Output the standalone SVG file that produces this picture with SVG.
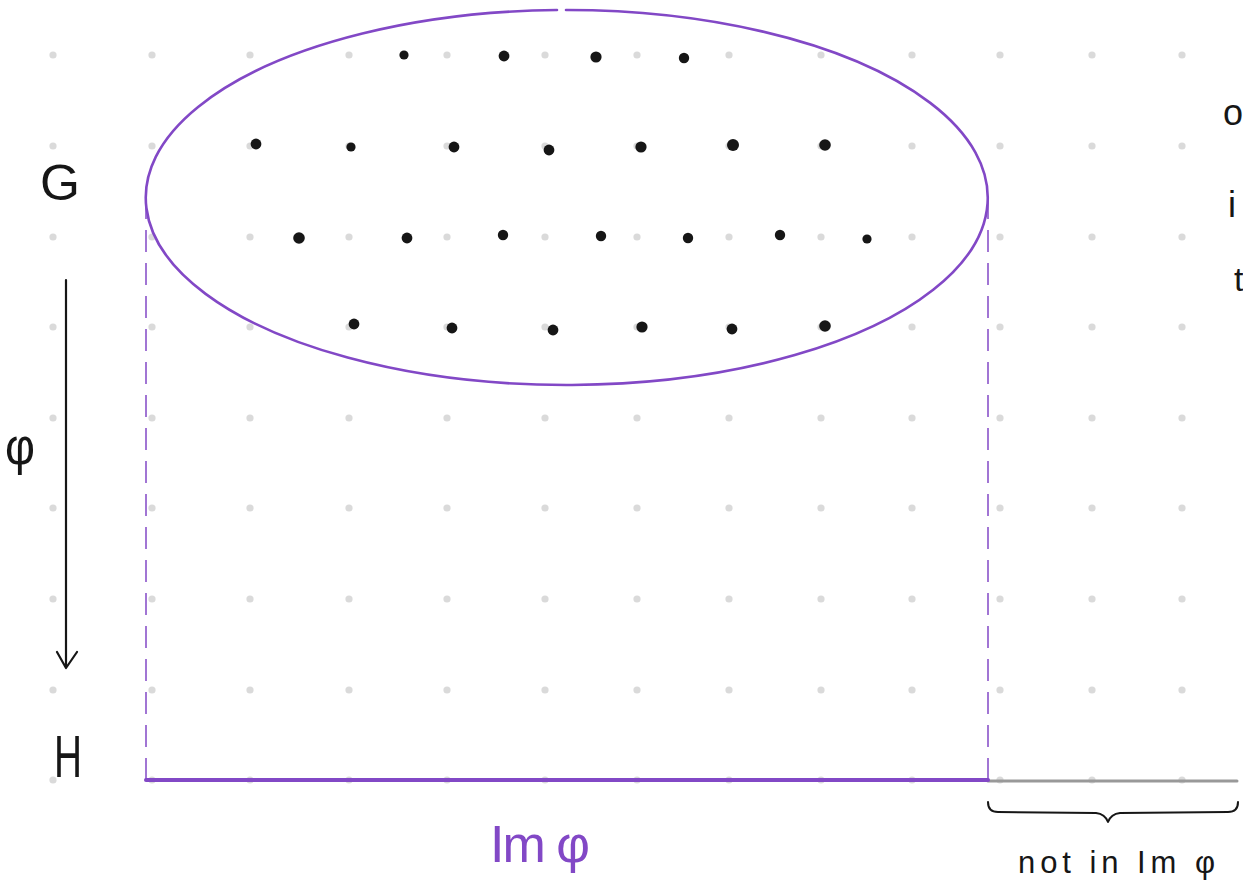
<svg xmlns="http://www.w3.org/2000/svg" xmlns:xlink="http://www.w3.org/1999/xlink" width="1243" height="880" viewBox="0 0 1243 880">
<style>
.g{fill:#dadada}
.pt{fill:#161616}
.hand{font-family:"Liberation Sans","DejaVu Sans",sans-serif;fill:#161616}
.purple{stroke:#8248c6;fill:none}
</style>
<defs>
<circle id="gd" r="3.6" class="g"/>
</defs>
<rect width="1243" height="880" fill="#ffffff"/>
<g id="grid">
<g id="r55"><use href="#gd" x="53" y="55"/><use href="#gd" x="152" y="55"/><use href="#gd" x="250" y="55"/><use href="#gd" x="349" y="55"/><use href="#gd" x="447" y="55"/><use href="#gd" x="545" y="55"/><use href="#gd" x="637" y="55"/><use href="#gd" x="729" y="55"/><use href="#gd" x="821" y="55"/><use href="#gd" x="912" y="55"/><use href="#gd" x="1000" y="55"/><use href="#gd" x="1092" y="55"/><use href="#gd" x="1182" y="55"/></g>
<use href="#r55" y="91"/>
<use href="#r55" y="182"/>
<use href="#r55" y="272"/>
<use href="#r55" y="363"/>
<use href="#r55" y="453"/>
<use href="#r55" y="544"/>
<use href="#r55" y="635"/>
<use href="#r55" y="725"/>
</g>
<g id="connectors">
<path id="ellipse" class="purple" stroke-width="2.6" stroke-linecap="round" d="M 566 10 A 421 187.5 0 1 1 557 10.05"/>
<line x1="146" y1="197" x2="146" y2="780" class="purple" stroke-width="1.5" stroke-dasharray="22 11"/>
<line x1="988" y1="197" x2="988" y2="780" class="purple" stroke-width="1.5" stroke-dasharray="22 11"/>
<line x1="988" y1="781" x2="1237" y2="781" stroke="#999999" stroke-width="3" stroke-linecap="round"/>
<line x1="146" y1="780" x2="988" y2="780" class="purple" stroke-width="4" stroke-linecap="round"/>
<path d="M 66 280 L 66 667 M 57 652 L 66 668 L 77 652" fill="none" stroke="#161616" stroke-width="2.2" stroke-linecap="round" stroke-linejoin="round"/>
<path d="M 988 802 Q 988 812 998 812 L 1096 813 Q 1105 814 1108 822 Q 1111 814 1120 813 L 1228 812 Q 1238 812 1238 802" fill="none" stroke="#161616" stroke-width="2" stroke-linecap="round" stroke-linejoin="round"/>
</g>
<g id="elements">
<circle class="pt" cx="404" cy="55" r="4.6"/>
<circle class="pt" cx="504" cy="56" r="5.4"/>
<circle class="pt" cx="596" cy="57" r="5.6"/>
<circle class="pt" cx="684" cy="58" r="5.2"/>
<circle class="pt" cx="256" cy="144" r="5.4"/>
<circle class="pt" cx="351" cy="147" r="4.6"/>
<circle class="pt" cx="454" cy="147" r="5.4"/>
<circle class="pt" cx="549" cy="150" r="5.4"/>
<circle class="pt" cx="641" cy="147" r="5.6"/>
<circle class="pt" cx="733" cy="145" r="6"/>
<circle class="pt" cx="825" cy="145" r="5.8"/>
<circle class="pt" cx="299" cy="238" r="5.8"/>
<circle class="pt" cx="407" cy="238" r="5.4"/>
<circle class="pt" cx="503" cy="235" r="5.2"/>
<circle class="pt" cx="601" cy="236" r="5.2"/>
<circle class="pt" cx="688" cy="238" r="5.2"/>
<circle class="pt" cx="780" cy="235" r="5.2"/>
<circle class="pt" cx="867" cy="239" r="4.6"/>
<circle class="pt" cx="354" cy="324" r="5.4"/>
<circle class="pt" cx="452" cy="328" r="5.4"/>
<circle class="pt" cx="553" cy="330" r="5.4"/>
<circle class="pt" cx="642" cy="327" r="5.6"/>
<circle class="pt" cx="732" cy="329" r="5.4"/>
<circle class="pt" cx="825" cy="326" r="5.8"/>
</g>
<g id="label-G"><text class="hand" x="40" y="200" font-size="50" textLength="40" lengthAdjust="spacingAndGlyphs">G</text></g>
<g id="label-phi"><text class="hand" x="5" y="464" font-size="52" textLength="30" lengthAdjust="spacingAndGlyphs">φ</text></g>
<g id="label-H"><text class="hand" x="54" y="777" font-size="60" textLength="28" lengthAdjust="spacingAndGlyphs">H</text></g>
<g id="label-Im"><text class="hand" x="490" y="862" font-size="52" fill="#8248c6" style="fill:#8248c6" textLength="100" lengthAdjust="spacing">Im φ</text></g>
<g id="label-notin"><text class="hand" x="1018" y="873" font-size="31" textLength="197" lengthAdjust="spacing">not in Im φ</text></g>
<g id="label-right">
<text class="hand" x="1223" y="125" font-size="36">o</text>
<text class="hand" x="1228" y="217" font-size="36">i</text>
<text class="hand" x="1234" y="291" font-size="34">t</text>
</g>
</svg>
